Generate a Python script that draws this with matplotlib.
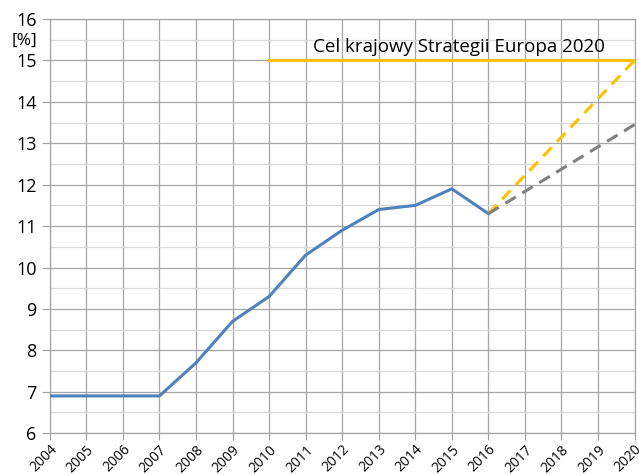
import matplotlib.pyplot as plt
import numpy as np

plt.rcParams['font.family'] = ['Open Sans', 'DejaVu Sans']

years = list(range(2004, 2021))
hist_years = list(range(2004, 2017))
hist_vals = [6.9, 6.9, 6.9, 6.9, 7.7, 8.7, 9.3, 10.3, 10.9, 11.4, 11.5, 11.9, 11.3]
target_years = [2010, 2020]
target_vals = [15.0, 15.0]
path_years = [2016, 2020]
path_target = [11.3, 15.0]
path_trend = [11.3, 13.45]
target_label = 'Cel krajowy Strategii Europa 2020'

fig = plt.figure(figsize=(6.39, 4.75), dpi=100)
ax = fig.add_axes([0.078, 0.088, 0.915, 0.872])

ax.set_xlim(2004, 2020)
ax.set_ylim(6, 16)
ax.set_xticks(years)
ax.set_xticklabels([str(y) for y in years], rotation=45, ha='right',
                   rotation_mode='anchor', fontsize=10)
ax.set_yticks(np.arange(6, 17, 1))
ax.set_yticks(np.arange(6.5, 16, 1), minor=True)
ax.tick_params(axis='y', which='major', labelsize=13, length=6, color='#a0a0a0')
ax.tick_params(axis='y', which='minor', length=0)
ax.tick_params(axis='x', length=5, pad=1.5, color='#a0a0a0')

ax.grid(True, which='major', color='#a6a6a6', linewidth=0.9)
ax.grid(True, which='minor', axis='y', color='#d9d9d9', linewidth=0.9)
ax.set_axisbelow(True)
for s in ax.spines.values():
    s.set_color('#a6a6a6')
    s.set_linewidth(0.9)

ax.plot(hist_years, hist_vals, color='#4f81bd', linewidth=2.2, zorder=3)
ax.plot(target_years, target_vals, color='#ffc000', linewidth=2.2, zorder=3)
ax.plot(path_years, path_target, color='#ffc000', linewidth=2.2,
        dashes=(4, 2.5), zorder=3)
ax.plot(path_years, path_trend, color='#808080', linewidth=2.2,
        dashes=(4, 2.5), zorder=3)

ax.text(2015.2, 15.32, target_label, ha='center', va='center', fontsize=13.5)
fig.text(0.038, 0.915, '[%]', ha='center', va='center', fontsize=12.5)

fig.savefig('out.png', dpi=100)
